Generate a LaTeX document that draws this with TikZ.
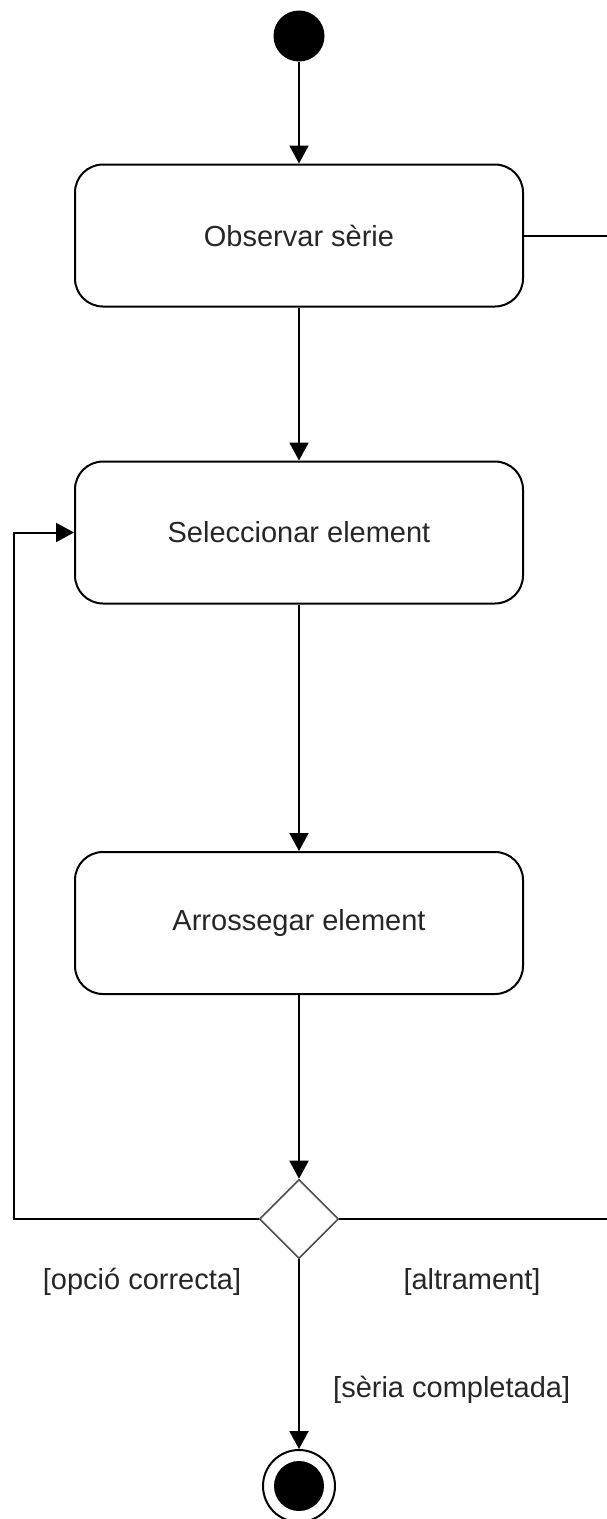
\documentclass[tikz,border=0pt]{standalone}
\usepackage{fontspec}
\setmainfont{Liberation Sans}
\usetikzlibrary{arrows.meta,shapes.geometric}
\begin{document}
\begin{tikzpicture}[x=1pt,y=-1pt,
  txt/.style={font=\fontsize{29}{33}\selectfont, text=black!85},
  act/.style={draw, line width=2pt, rounded corners=28pt, minimum width=448pt,
    minimum height=142pt, inner sep=0pt, txt},
  conn/.style={draw, line width=2pt},
  flow/.style={conn, -{Triangle[length=18pt,width=19pt]}},
  guard/.style={txt, inner sep=0pt}]
\useasboundingbox (0,0) rectangle (607,1519);

% initial state
\node[circle, fill, minimum size=51pt, inner sep=0pt] (start) at (299,36) {};

% activities
\node[act] (obs) at (299,235.5) {Observar sèrie};
\node[act] (sel) at (299,532.5) {Seleccionar element};
\node[act] (arr) at (299,923) {Arrossegar element};

% decision
\node[diamond, draw=black!70, line width=1.6pt, minimum width=79pt,
  minimum height=79pt, inner sep=0pt] (dec) at (299,1219) {};

% final state
\node[circle, draw, line width=2pt, minimum size=72pt, inner sep=0pt] (end) at (299,1486) {};
\node[circle, fill, minimum size=50pt, inner sep=0pt] (endin) at (end.center) {};

% flows
\draw[flow] (start) -- (obs);
\draw[flow] (obs) -- (sel);
\draw[flow] (sel) -- (arr);
\draw[flow] (arr) -- (dec);
\draw[flow] (dec) -- (end);

\coordinate (lc) at (14,1219);
\draw[flow] (dec.west) -- (lc) |- (sel.west);

\coordinate (rc) at (607,1219);
\draw[conn] (dec.east) -- (rc);
\coordinate (ro) at (607,235.5);
\draw[conn] (obs.east) -- (ro);

% guards
\node[guard] (g1) at (142,1282) {[opció correcta]};
\node[guard] (g2) at (472,1282) {[altrament]};
\node[guard, anchor=west] (g3) at (333,1390) {[sèria completada]};
\end{tikzpicture}
\end{document}
